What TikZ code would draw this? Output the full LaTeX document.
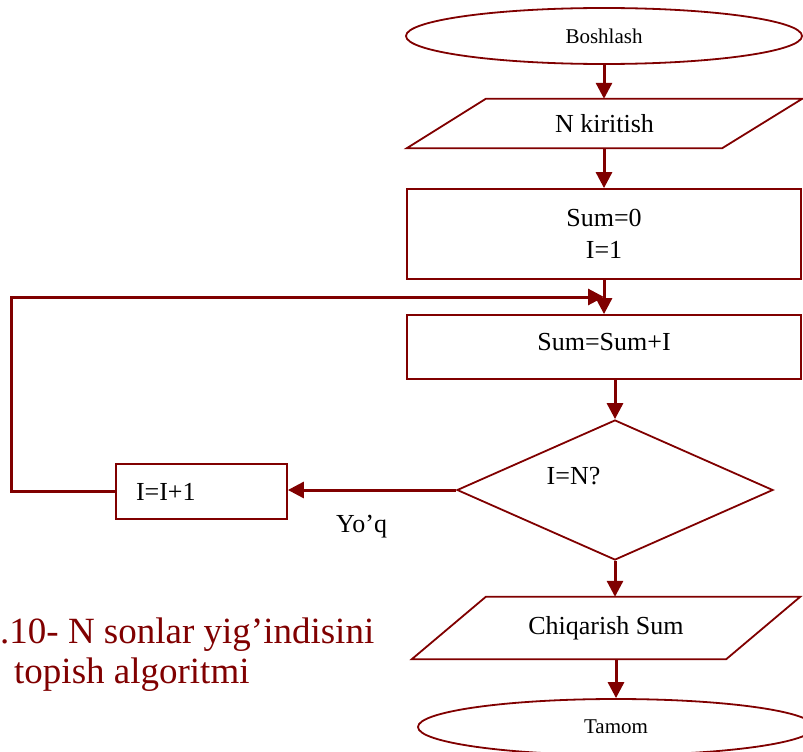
\documentclass[tikz,border=0pt]{standalone}
\usepackage{fontspec}
\setmainfont{Liberation Serif}
\usetikzlibrary{shapes.geometric,arrows.meta,calc}
\definecolor{flowred}{RGB}{128,0,0}

\begin{document}
\begin{tikzpicture}[x=1pt,y=-1pt,
  term/.style={ellipse,draw=flowred,line width=1.8pt,inner sep=0pt,
    minimum width=396pt,minimum height=56pt,font=\fontsize{21}{25}\selectfont},
  proc/.style={rectangle,draw=flowred,line width=1.8pt,inner sep=0pt,
    font=\fontsize{26}{32}\selectfont},
  iobox/.style={rectangle,inner sep=0pt,font=\fontsize{26}{32}\selectfont},
  txt/.style={inner sep=0pt,font=\fontsize{26}{32}\selectfont},
  arr/.style={draw=flowred,line width=3pt,-{Triangle[length=16pt,width=16pt]}}]

  \useasboundingbox (0,0) rectangle (803,752);

  %=====================================================================
  % main column
  %=====================================================================
  \node[term] (start) at (604,36) {Boshlash};

  \node[iobox,minimum width=395pt,minimum height=49pt] (inp) at (604.5,123.5) {N kiritish};
  \draw[flowred,line width=1.8pt] ([xshift=79pt]inp.north west) -- (inp.north east)
    -- ([xshift=-80pt]inp.south east) -- (inp.south west) -- cycle;

  \node[proc,minimum width=394pt,minimum height=90pt,align=center] (init) at (604,234) {Sum=0\\I=1};
  \node[proc,minimum width=394pt,minimum height=64pt,text height=18pt,text depth=12pt] (body) at (604,347) {Sum=Sum+I};

  % decision
  \node[diamond,draw=flowred,line width=1.8pt,inner sep=0pt,
    minimum width=316pt,minimum height=140pt] (test) at (615,490) {};
  \node[txt] (testlbl) at (573.5,476) {I=N?};

  \node[iobox,minimum width=388pt,minimum height=62pt] (out) at (606,628) {Chiqarish Sum};
  \draw[flowred,line width=1.8pt] ([xshift=74pt]out.north west) -- (out.north east)
    -- ([xshift=-74pt]out.south east) -- (out.south west) -- cycle;

  \node[term] (stop) at (616,727) {Tamom};

  %=====================================================================
  % loop branch
  %=====================================================================
  \node[proc,minimum width=171pt,minimum height=55pt,inner xsep=20pt,
    text width=131pt,align=left] (incr) at (201.5,491.5) {I=I+1};
  \node[txt,anchor=base west] (no) at (336,532) {Yo’q};

  \coordinate (join) at ($(init.south)!0.5!(body.north)$);
  \coordinate (loopc) at (11,297);

  % connectors
  \draw[arr] (start.south) -- (start.south |- inp.north);
  \draw[arr] (inp.south -| init.north) -- (init.north);
  \draw[arr] (init.south) -- (body.north);
  \draw[arr] (incr.west) -| (loopc) -- (join);
  \draw[arr] (test.north |- body.south) -- (test.north);
  \draw[arr] (test.west) -- (test.west -| incr.east);
  \draw[arr] (test.south) -- (test.south |- out.north);
  \draw[arr] (out.south -| stop.north) -- (stop.north);

  % caption
  \node[anchor=base west,inner sep=0pt,text=flowred,font=\fontsize{37}{40}\selectfont]
    (cap1) at (0,643) {.10- N sonlar yig’indisini};
  \node[anchor=base west,inner sep=0pt,text=flowred,font=\fontsize{37}{40}\selectfont]
    (cap2) at (14,683) {topish algoritmi};

\end{tikzpicture}
\end{document}
